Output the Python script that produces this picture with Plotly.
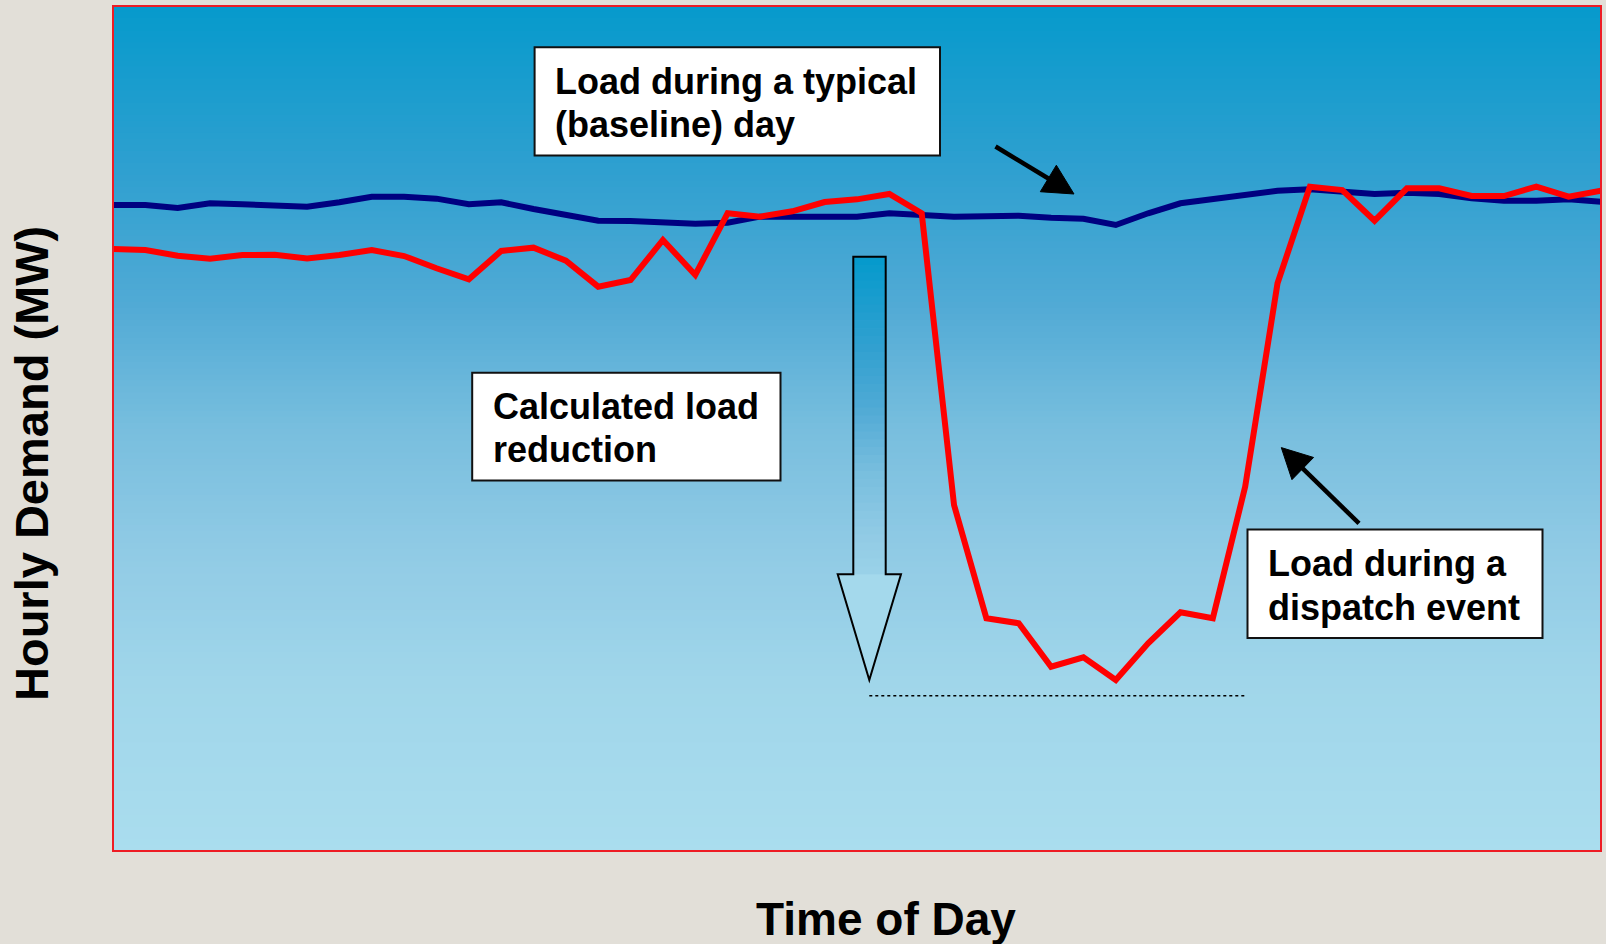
import plotly.graph_objects as go

# ---------------- data ----------------
time_index = list(range(47))  # half-hour steps across the day
baseline_load = [76.45, 76.45, 76.09, 76.65, 76.53, 76.33, 76.25, 76.77, 77.43, 77.43,
                 77.20, 76.53, 76.77, 75.98, 75.35, 74.59, 74.56, 74.47, 74.24, 74.36,
                 75.07, 75.07, 75.15, 75.07, 75.47, 75.27, 75.07, 75.11, 75.18, 74.95,
                 74.83, 74.08, 75.47, 76.65, 77.12, 77.63, 78.14, 78.31, 78.07, 77.75,
                 77.90, 77.75, 77.24, 76.96, 76.96, 77.12, 76.84]
event_load = [71.24, 71.12, 70.45, 70.09, 70.53, 70.57, 70.13, 70.53, 71.12, 70.41,
              68.96, 67.66, 71.01, 71.40, 69.86, 66.78, 67.57, 72.31, 68.17, 75.47,
              75.07, 75.70, 76.80, 77.12, 77.75, 75.47, 40.95, 27.54, 26.95, 21.81,
              22.92, 20.24, 24.58, 28.25, 27.54, 43.11, 67.18, 78.62, 78.22, 74.59,
              78.43, 78.43, 77.51, 77.51, 78.62, 77.43, 78.14]
x_title = "Time of Day"
y_title = "Hourly Demand (MW)"
box_texts = [["Load during a typical", "(baseline) day"],
             ["Calculated load", "reduction"],
             ["Load during a", "dispatch event"]]

# ---------------- layout geometry (pixels) ----------------
W, H = 1606, 944
L, T, R, B = 113, 6, 1601, 851
PW, PH = R - L, B - T
FONT = "Arial, 'Liberation Sans', sans-serif"


def px(x):
    return (x - L) / PW


def py(y):
    return 1 - (y - T) / PH


stops = [(0.0, (6, 154, 204)), (0.2, (48, 160, 208)), (0.35, (80, 170, 213)),
         (0.5, (120, 190, 222)), (0.65, (145, 203, 229)), (0.8, (160, 214, 234)),
         (1.0, (170, 221, 238))]


def grad(t):
    t = min(max(t, 0), 1)
    for (t0, c0), (t1, c1) in zip(stops[:-1], stops[1:]):
        if t <= t1:
            f = (t - t0) / (t1 - t0) if t1 > t0 else 0
            c = [round(a + (b - a) * f) for a, b in zip(c0, c1)]
            return "rgb(%d,%d,%d)" % tuple(c)
    return "rgb(%d,%d,%d)" % stops[-1][1]


shapes = []
# background gradient of the plot area
N = 140
for i in range(N):
    y0 = T + PH * i / N
    y1 = T + PH * (i + 1) / N + 0.8
    shapes.append(dict(type="rect", xref="paper", yref="paper", x0=0, x1=1,
                       y0=py(min(y1, B)), y1=py(y0), line=dict(width=0),
                       fillcolor=grad((i + 0.5) / N), layer="below"))

# block arrow ("calculated load reduction")
sx0, sx1, stop_y, sbot = 853.3, 885.7, 256.7, 574.3
hx0, hx1, tipx, tipy = 837.7, 901.0, 869.3, 680.0
M = 40
for i in range(M):
    y0 = stop_y + (sbot - stop_y) * i / M
    y1 = stop_y + (sbot - stop_y) * (i + 1) / M + 0.6
    shapes.append(dict(type="rect", xref="paper", yref="paper", x0=px(sx0), x1=px(sx1),
                       y0=py(min(y1, sbot)), y1=py(y0), line=dict(width=0),
                       fillcolor=grad((y0 - stop_y) / (tipy - stop_y))))
shapes.append(dict(type="path", xref="paper", yref="paper",
                   path="M %f %f L %f %f L %f %f Z" % (px(hx0), py(sbot), px(hx1), py(sbot), px(tipx), py(tipy)),
                   fillcolor=grad(0.88), line=dict(width=0)))
outline = [(sx0, stop_y), (sx1, stop_y), (sx1, sbot), (hx1, sbot), (tipx, tipy),
           (hx0, sbot), (sx0, sbot)]
shapes.append(dict(type="path", xref="paper", yref="paper",
                   path="M " + " L ".join("%f %f" % (px(a), py(b)) for a, b in outline) + " Z",
                   line=dict(color="black", width=2)))

# dotted reference line at bottom of event load
shapes.append(dict(type="line", xref="paper", yref="paper", x0=px(869.3), x1=px(1246.5),
                   y0=py(695.7), y1=py(695.7), line=dict(color="black", width=1.5, dash="dot")))

# text boxes
boxes = [(534.6, 47.3, 940.0, 155.5), (472.2, 372.8, 780.5, 480.4), (1247.5, 529.5, 1542.5, 638.0)]
for x0, y0, x1, y1 in boxes:
    shapes.append(dict(type="rect", xref="paper", yref="paper", x0=px(x0), x1=px(x1),
                       y0=py(y1), y1=py(y0), fillcolor="white", line=dict(color="#111111", width=2)))


# pointer arrows
def pointer(sx, sy, tx, ty, hl=30, hw=15.5, width=4.5):
    dx, dy = tx - sx, ty - sy
    ln = (dx * dx + dy * dy) ** 0.5
    ux, uy = dx / ln, dy / ln
    nx, ny = -uy, ux
    bx, by = tx - hl * ux, ty - hl * uy
    shapes.append(dict(type="line", xref="paper", yref="paper", x0=px(sx), y0=py(sy),
                       x1=px(bx + 2 * ux), y1=py(by + 2 * uy), line=dict(color="black", width=width)))
    pts = [(tx, ty), (bx + hw * nx, by + hw * ny), (bx - hw * nx, by - hw * ny)]
    shapes.append(dict(type="path", xref="paper", yref="paper",
                       path="M " + " L ".join("%f %f" % (px(a), py(b)) for a, b in pts) + " Z",
                       fillcolor="black", line=dict(color="black", width=1)))


pointer(995.5, 146.5, 1074.0, 194.0)
pointer(1359.0, 523.4, 1281.3, 447.6)

# plot border
shapes.append(dict(type="rect", xref="paper", yref="paper", x0=0, x1=1, y0=0, y1=1,
                   line=dict(color="#ee1c24", width=2)))

# ---------------- annotations ----------------
annotations = []
# (text left, [line centres])
text_pos = [(552.5, [81.0, 125.0]), (490.5, [406.0, 449.5]), (1265.5, [563.5, 607.0])]
for (tx, centres), lines in zip(text_pos, box_texts):
    for cy, line in zip(centres, lines):
        annotations.append(dict(x=px(tx), y=py(cy), xref="paper", yref="paper",
                                text=line, showarrow=False, xanchor="left", yanchor="middle",
                                font=dict(family=FONT, size=36, color="black", weight="bold")))

annotations.append(dict(x=px(886), y=py(935 - 16), xref="paper", yref="paper", text=x_title,
                        showarrow=False, xanchor="center", yanchor="middle",
                        font=dict(family=FONT, size=46, color="black", weight="bold")))
annotations.append(dict(x=px(31), y=py(464), xref="paper", yref="paper", text=y_title,
                        showarrow=False, xanchor="center", yanchor="middle", textangle=-90,
                        font=dict(family=FONT, size=47, color="black", weight="bold")))

# ---------------- figure ----------------
fig = go.Figure()
fig.add_trace(go.Scatter(x=time_index, y=baseline_load, mode="lines",
                         line=dict(color="#000080", width=6), name="Baseline"))
fig.add_trace(go.Scatter(x=time_index, y=event_load, mode="lines",
                         line=dict(color="#ff0000", width=6), name="Dispatch event"))

fig.update_layout(
    width=W, height=H,
    margin=dict(l=L, r=W - R, t=T, b=H - B),
    paper_bgcolor="#e2dfd8",
    plot_bgcolor="rgba(0,0,0,0)",
    showlegend=False,
    xaxis=dict(range=[0, 46], visible=False),
    yaxis=dict(range=[0, 100], visible=False),
    shapes=shapes,
    annotations=annotations,
)

fig.write_html("out.html", config={"displayModeBar": False},
               post_script="document.body.style.margin='0';document.body.style.overflow='hidden';")
